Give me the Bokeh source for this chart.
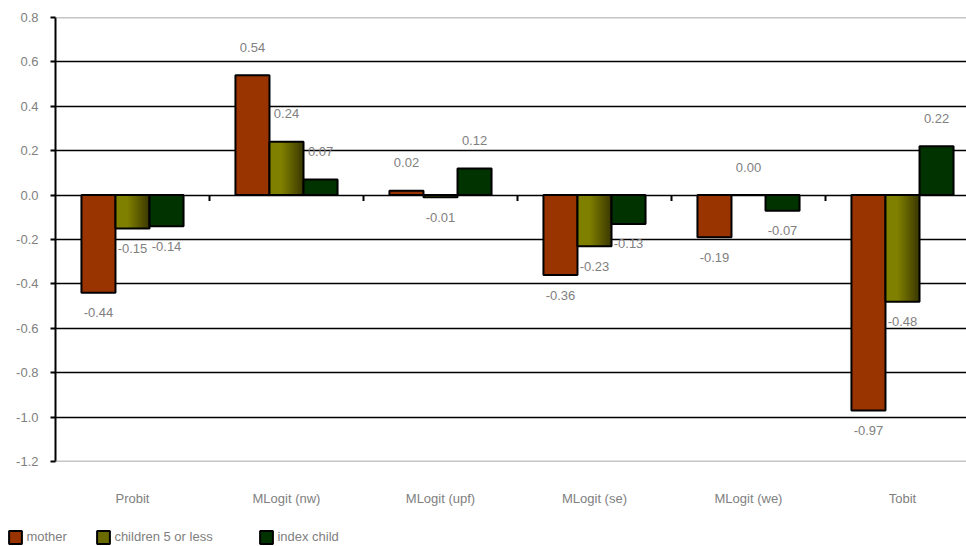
from bokeh.plotting import figure
from bokeh.layouts import column
from bokeh.models import (FixedTicker, NumeralTickFormatter, Range1d,
                          Span, Legend, LegendItem)
from bokeh.core.properties import value
from bokeh.embed import file_html
from bokeh.resources import INLINE

# Estimated marginal effects by model specification
models = ["Probit", "MLogit (nw)", "MLogit (upf)", "MLogit (se)", "MLogit (we)", "Tobit"]
mother = [-0.44, 0.54, 0.02, -0.36, -0.19, -0.97]
children = [-0.15, 0.24, -0.01, -0.23, 0.00, -0.48]
index_child = [-0.14, 0.07, 0.12, -0.13, -0.07, 0.22]
series_names = ["mother", "children 5 or less", "index child"]
y_ticks = [-1.2, -1.0, -0.8, -0.6, -0.4, -0.2, 0.0, 0.2, 0.4, 0.6, 0.8]

FONT = "Liberation Sans"
TEXT_GREY = "#808080"
MOTHER_RED = "#993300"
CHILD_OLIVE = "#6a6a00"
INDEX_GREEN = "#003300"

n = len(models)
centers = [i + 0.5 for i in range(n)]
bar_w = 0.221

p = figure(width=966, height=516, output_backend="svg", toolbar_location=None,
           x_range=Range1d(0, 911 / 154), y_range=Range1d(y_ticks[0], y_ticks[-1]),
           min_border_left=55, min_border_right=0, min_border_top=17, min_border_bottom=55)
p.frame_align = False
p.outline_line_color = None
p.background_fill_color = "white"
p.border_fill_color = "white"

# horizontal grid: interior lines black, frame edges grey
p.xgrid.visible = False
p.ygrid.ticker = FixedTicker(ticks=y_ticks[1:-1])
p.ygrid.grid_line_color = "black"
p.ygrid.grid_line_width = 1.5
for edge in (y_ticks[0], y_ticks[-1]):
    p.add_layout(Span(location=edge, dimension="width", line_color="#8c8c8c", line_width=1.5))

# y axis
p.yaxis.ticker = FixedTicker(ticks=y_ticks)
p.yaxis.formatter = NumeralTickFormatter(format="0.0")
p.yaxis.axis_line_color = "black"
p.yaxis.axis_line_width = 2
p.yaxis.major_tick_line_color = "black"
p.yaxis.major_tick_line_width = 2
p.yaxis.major_tick_in = 0
p.yaxis.major_tick_out = 5
p.yaxis.minor_tick_line_color = None
p.yaxis.major_label_standoff = 12
p.yaxis.major_label_text_font = FONT
p.yaxis.major_label_text_font_size = "13px"
p.yaxis.major_label_text_color = TEXT_GREY

# x axis: category names only
p.xaxis.ticker = FixedTicker(ticks=centers)
p.xaxis.major_label_overrides = {c: m for c, m in zip(centers, models)}
p.xaxis.axis_line_color = None
p.xaxis.major_tick_line_color = None
p.xaxis.minor_tick_line_color = None
p.xaxis.major_label_standoff = 23
p.xaxis.major_label_text_font = FONT
p.xaxis.major_label_text_font_size = "13px"
p.xaxis.major_label_text_color = TEXT_GREY

# category separators hanging below the zero line
bounds = [float(i) for i in range(1, n)]
p.segment(x0=bounds, y0=[0] * len(bounds), x1=bounds, y1=[-0.027] * len(bounds),
          line_color="black", line_width=2)

# value labels (drawn first so the bars sit over them)
lab_x, lab_y, lab_t, lab_off = [], [], [], []
for shift, vals in ((-bar_w, mother), (0.0, children), (bar_w, index_child)):
    for c, v in zip(centers, vals):
        lab_x.append(c + shift)
        lab_y.append(v)
        lab_t.append(f"{v:.2f}")
        lab_off.append(-28 if v >= 0 else 20)
p.text(x=lab_x, y=lab_y, text=lab_t, y_offset=lab_off, text_align="center",
       text_baseline="middle", text_font=value(FONT), text_font_size="13px",
       text_color=TEXT_GREY)

# mother bars
p.vbar(x=[c - bar_w for c in centers], top=mother, bottom=0, width=bar_w,
       fill_color=MOTHER_RED, line_color="black", line_width=2)

# children bars: shaded left-to-right from olive to dark olive; each strip runs
# from its own left edge to the bar's right edge so the layers leave no seams
strips = 16
for k in range(strips):
    t = (k + 0.5) / strips
    f = 0.0 if t < 0.35 else (t - 0.35) / 0.65
    r = int(round(128 + (58 - 128) * f))
    g = int(round(128 + (56 - 128) * f))
    col = f"#{r:02x}{g:02x}00"
    lefts = [c - bar_w / 2 + k * bar_w / strips for c in centers]
    rights = [c + bar_w / 2 for c in centers]
    p.quad(left=lefts, right=rights, top=children, bottom=0,
           fill_color=col, line_color=None)
p.vbar(x=centers, top=children, bottom=0, width=bar_w,
       fill_alpha=0, line_color="black", line_width=2)

# index child bars
p.vbar(x=[c + bar_w for c in centers], top=index_child, bottom=0, width=bar_w,
       fill_color=INDEX_GREEN, line_color="black", line_width=2)

# legend strip underneath the chart; the swatch renderers are zero-sized so
# only their legend glyphs show
lf = figure(width=966, height=30, output_backend="svg", toolbar_location=None,
            x_axis_type=None, y_axis_type=None, x_range=Range1d(0, 1), y_range=Range1d(0, 1),
            min_border=0)
lf.frame_align = False
lf.outline_line_color = None
lf.border_fill_color = "white"
swatches = []
for col in (MOTHER_RED, CHILD_OLIVE, INDEX_GREEN):
    swatches.append(lf.vbar(x=[0.5], top=[0.5], bottom=[0.5], width=0, fill_color=col,
                            line_color="black", line_width=2))
for name, rend, xpos in zip(series_names, swatches, (7.4, 95.4, 258.4)):
    lf.add_layout(Legend(items=[LegendItem(label=name, renderers=[rend])],
                         location=(xpos, 1.5), orientation="horizontal",
                         glyph_width=16, glyph_height=16, label_height=16,
                         label_standoff=3, padding=0, margin=0, spacing=0,
                         border_line_color=None, background_fill_alpha=0,
                         label_text_font=FONT, label_text_font_size="13px",
                         label_text_color=TEXT_GREY))

page = column(p, lf, spacing=0)
open("out.html", "w").write(file_html(page, INLINE))
